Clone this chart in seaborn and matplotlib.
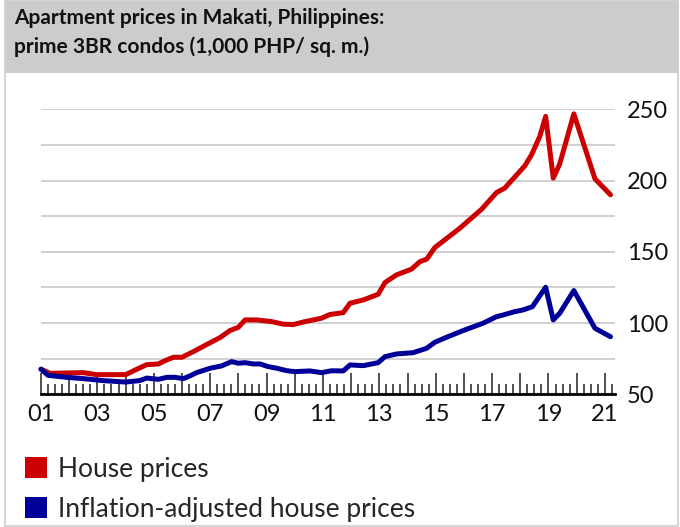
import numpy as np
import pandas as pd
import seaborn as sns
import matplotlib.pyplot as plt
from matplotlib.patches import Rectangle, Patch
from matplotlib.ticker import FixedLocator, MultipleLocator

# Values (decimal year, 1,000 PHP per sq. m.)
house_years = [2001.0, 2001.32, 2002.5, 2002.97, 2004.0, 2004.4, 2004.75, 2005.16,
               2005.46, 2005.7, 2006.0, 2006.4, 2007.0, 2007.35, 2007.7, 2008.0,
               2008.24, 2008.65, 2009.18, 2009.6, 2009.94, 2010.36, 2010.95, 2011.25,
               2011.72, 2011.96, 2012.43, 2012.96, 2013.2, 2013.61, 2014.14, 2014.44,
               2014.68, 2014.97, 2015.86, 2016.63, 2017.16, 2017.45, 2017.8, 2018.16,
               2018.4, 2018.69, 2018.9, 2019.17, 2019.4, 2019.9, 2020.65, 2021.2]
house_prices = [67.6, 64.7, 65.2, 63.8, 63.8, 67.6, 70.8, 71.3,
                74.1, 76.0, 76.0, 79.9, 86.2, 89.8, 94.7, 97.0,
                102.2, 102.2, 101.0, 99.2, 98.9, 101.0, 103.4, 106.0,
                107.3, 113.9, 116.2, 120.2, 128.4, 133.8, 137.8, 143.1,
                144.8, 153.0, 166.6, 179.9, 191.6, 194.7, 202.4, 210.3,
                218.1, 230.9, 245.0, 201.7, 211.7, 246.8, 201.2, 190.0]

real_years = [2001.0, 2001.25, 2001.9, 2002.5, 2003.2, 2004.0, 2004.5, 2004.75,
              2005.16, 2005.46, 2005.75, 2006.05, 2006.28, 2006.52, 2007.0, 2007.4,
              2007.76, 2008.0, 2008.24, 2008.53, 2008.77, 2009.06, 2009.36, 2009.71,
              2010.0, 2010.54, 2010.95, 2011.3, 2011.72, 2011.96, 2012.43, 2012.96,
              2013.2, 2013.61, 2014.2, 2014.68, 2014.97, 2015.38, 2015.97, 2016.68,
              2017.16, 2017.4, 2017.8, 2018.1, 2018.43, 2018.9, 2019.17, 2019.4,
              2019.9, 2020.65, 2021.2]
real_prices = [67.6, 63.3, 61.9, 61.0, 59.6, 58.6, 59.6, 61.4,
               60.5, 61.9, 61.9, 61.0, 62.9, 65.2, 68.3, 69.9,
               72.9, 71.8, 72.2, 71.3, 71.3, 69.4, 68.3, 66.6,
               65.9, 66.4, 65.2, 66.5, 66.4, 70.6, 70.1, 72.2,
               76.4, 78.3, 79.2, 82.3, 86.5, 90.0, 94.7, 99.9,
               104.5, 105.7, 108.0, 109.2, 111.5, 125.1, 102.2, 106.9,
               122.8, 96.3, 90.4]

series_names = ["House prices", "Inflation-adjusted house prices"]
series_colors = ["#cc0000", "#000099"]
y_ticks = [50, 75, 100, 125, 150, 175, 200, 225, 250]

df = pd.concat([
    pd.DataFrame({"year": house_years, "price": house_prices, "series": series_names[0]}),
    pd.DataFrame({"year": real_years, "price": real_prices, "series": series_names[1]}),
])

sns.set_theme(style="white")
plt.rcParams["font.family"] = ["Lato", "DejaVu Sans"]

W, H = 680, 527
fig = plt.figure(figsize=(W / 100, H / 100), dpi=100)

# outer frame and grey title band
fig.patches.append(Rectangle((5 / W, 1 / H), 673 / W, 525 / H, transform=fig.transFigure,
                             facecolor="none", edgecolor="#d4d4d4", linewidth=1.5, zorder=0))
fig.patches.append(Rectangle((5 / W, 1 - 73 / H), 673 / W, 72 / H, transform=fig.transFigure,
                             facecolor="#cccccc", edgecolor="none", zorder=0))
fig.text(14 / W, 1 - 8 / H, "Apartment prices in Makati, Philippines:\nprime 3BR condos (1,000 PHP/ sq. m.)",
         fontsize=15, fontweight="bold", va="top", ha="left", linespacing=1.5, color="#111111")

ax = fig.add_axes([41 / W, (H - 394.3) / H, 574 / W, 285 / H])
ax.set_zorder(2)
sns.lineplot(data=df, x="year", y="price", hue="series", palette=series_colors,
             estimator=None, sort=False, linewidth=3.6, legend=False, ax=ax)
for line in ax.lines:
    line.set_solid_capstyle("round")
    line.set_solid_joinstyle("round")
    line.set_clip_on(False)

ax.set_xlim(2001, 2021.36)
ax.set_ylim(50, 250)
ax.set_xlabel("")
ax.set_ylabel("")

# y axis on the right, grid every 25, labels every 50
ax.yaxis.tick_right()
ax.yaxis.set_major_locator(FixedLocator(y_ticks))
ax.set_yticklabels([str(t) if t % 50 == 0 else "" for t in y_ticks])
ax.tick_params(axis="y", length=0, pad=8.5, labelsize=17, colors="#111111")
ax.grid(axis="y", color="#d0d0d0", linewidth=1.4)
ax.grid(axis="x", visible=False)

# x axis: tall yearly ticks, short quarterly ticks, labels every 2 years
years = list(range(2001, 2022))
ax.xaxis.set_major_locator(FixedLocator(years))
ax.set_xticklabels([f"{y % 100:02d}" if y % 2 == 1 else "" for y in years])
ax.xaxis.set_minor_locator(MultipleLocator(0.25))
ax.tick_params(axis="x", which="major", direction="in", length=15, width=1.1,
               color="#222222", pad=7, labelsize=17, labelcolor="#111111", bottom=True)
ax.tick_params(axis="x", which="minor", direction="in", length=7.5, width=1.1,
               color="#222222", bottom=True)

for side in ["top", "left", "right"]:
    ax.spines[side].set_visible(False)
ax.spines["bottom"].set_color("black")
ax.spines["bottom"].set_linewidth(2)
ax.set_facecolor("none")

handles = [Patch(facecolor=c, edgecolor="none") for c in series_colors]
fig.legend(handles, series_names, loc="upper left", bbox_to_anchor=(25 / W, 1 - 457 / H),
           frameon=False, fontsize=19, handlelength=0.85, handleheight=0.85,
           handletextpad=0.4, labelspacing=0.55, borderpad=0, borderaxespad=0)

fig.savefig("out.png", dpi=100)
